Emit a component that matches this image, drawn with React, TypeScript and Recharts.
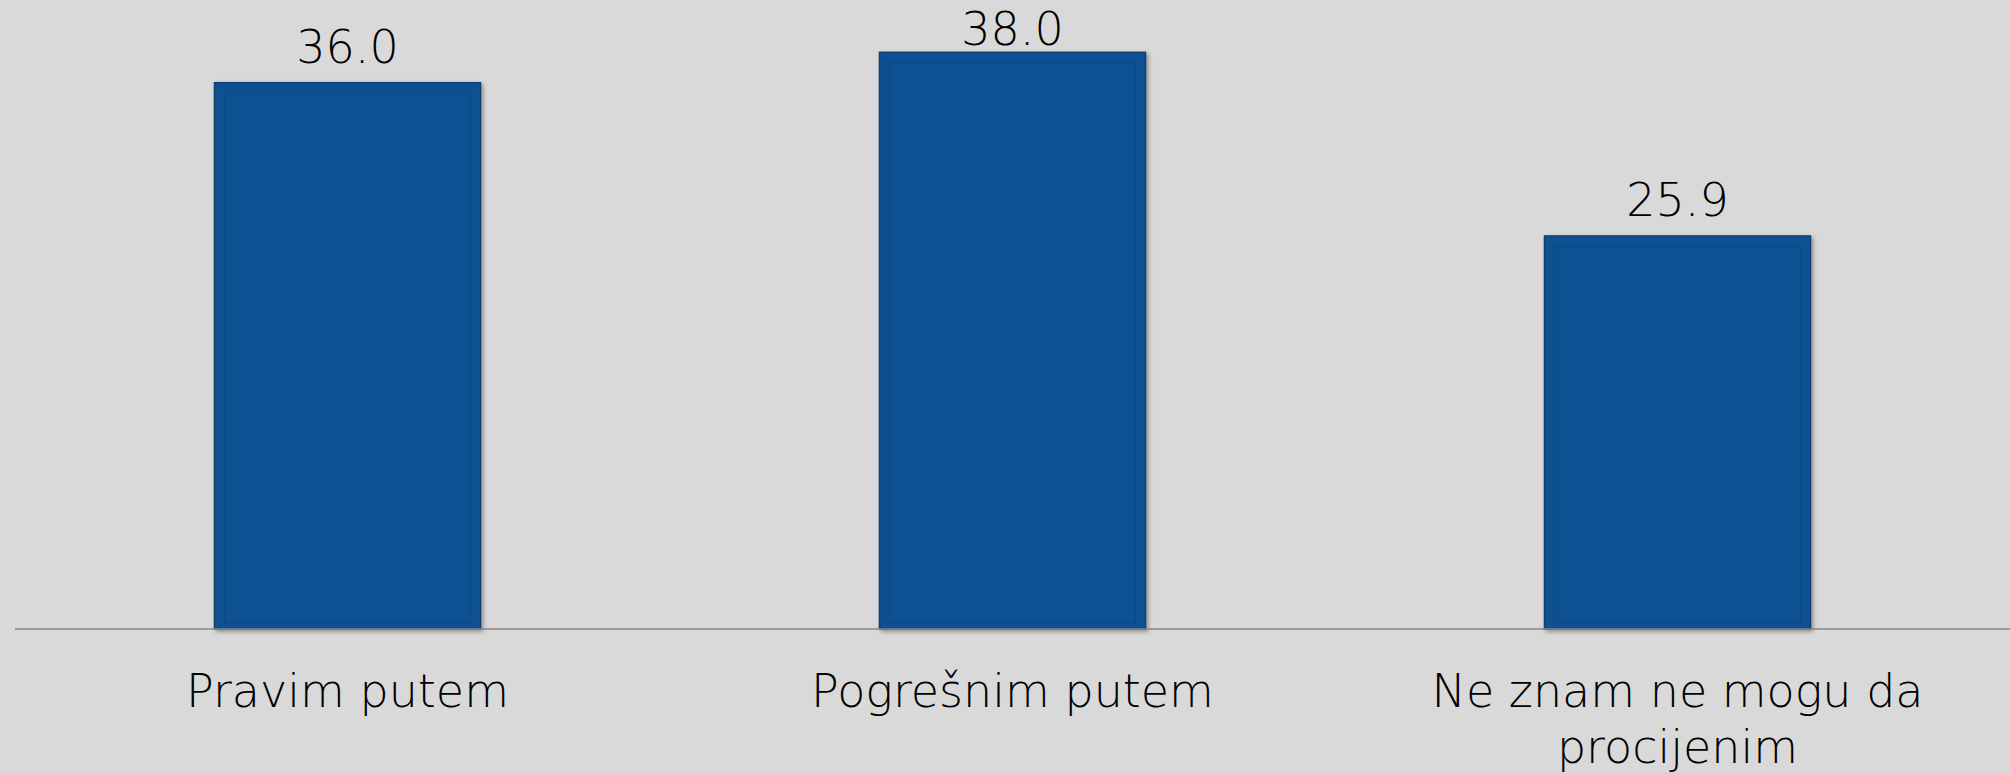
import { BarChart, Bar, XAxis, YAxis, LabelList } from "recharts";

const categories = ["Pravim putem", "Pogrešnim putem", "Ne znam ne mogu da procijenim"];
const shares = [36.0, 38.0, 25.9];

const data = categories.map((name, i) => ({ name, value: shares[i] }));

const FONT = "'DejaVu Sans', sans-serif";
const MAX_LINE_CHARS = 18;

function wrapWords(s: string) {
  const lines: string[] = [];
  let cur = "";
  for (const w of s.split(" ")) {
    const next = cur ? cur + " " + w : w;
    if (next.length > MAX_LINE_CHARS && cur) {
      lines.push(cur);
      cur = w;
    } else {
      cur = next;
    }
  }
  if (cur) lines.push(cur);
  return lines;
}

function BarShape(props: any) {
  const { x, y, width, height } = props;
  if (!height || height <= 0) return null;
  return (
    <g>
      <defs>
        <filter id="barShadow" x="-10%" y="-10%" width="120%" height="120%">
          <feDropShadow dx="2" dy="2" stdDeviation="2" floodColor="#000" floodOpacity="0.35" />
        </filter>
      </defs>
      <rect x={x} y={y} width={width} height={height} fill="#0c5192" stroke="#0b4070" strokeWidth={1.5} filter="url(#barShadow)" />
      <rect
        x={x + 10}
        y={y + 10}
        width={Math.max(0, width - 20)}
        height={Math.max(0, height - 16)}
        fill="none"
        stroke="#0a4a86"
        strokeWidth={1}
      />
    </g>
  );
}

function CategoryTick(props: any) {
  const { x, y, payload } = props;
  const lines = wrapWords(String(payload.value));
  return (
    <text x={x} y={y} textAnchor="middle" fontFamily={FONT} fontWeight={200} fontSize={46} fill="#000">
      {lines.map((ln, i) => (
        <tspan key={i} x={x} dy={i === 0 ? 70 : 56}>
          {ln}
        </tspan>
      ))}
    </text>
  );
}

function ValueLabel(props: any) {
  const { x, y, width, value } = props;
  const baseline = Math.max(y - 20, 45);
  return (
    <text x={x + width / 2} y={baseline} textAnchor="middle" fontFamily={FONT} fontWeight={200} fontSize={46} fill="#000">
      {Number(value).toFixed(1)}
    </text>
  );
}

export default function App() {
  return (
    <div style={{ position: "absolute", left: 0, top: 0, width: 2010, height: 773, background: "#d9d9d9", overflow: "hidden" }}>
      <BarChart
        width={2010}
        height={773}
        data={data}
        margin={{ top: 22, right: 0, left: 15, bottom: 0 }}
        barCategoryGap="30%"
      >
        <XAxis
          dataKey="name"
          height={144}
          axisLine={{ stroke: "#898989", strokeWidth: 1.5 }}
          tickLine={false}
          interval={0}
          tick={<CategoryTick />}
        />
        <YAxis hide domain={[0, 40]} />
        <Bar dataKey="value" shape={<BarShape />} isAnimationActive={false}>
          <LabelList dataKey="value" content={<ValueLabel />} />
        </Bar>
      </BarChart>
    </div>
  );
}
